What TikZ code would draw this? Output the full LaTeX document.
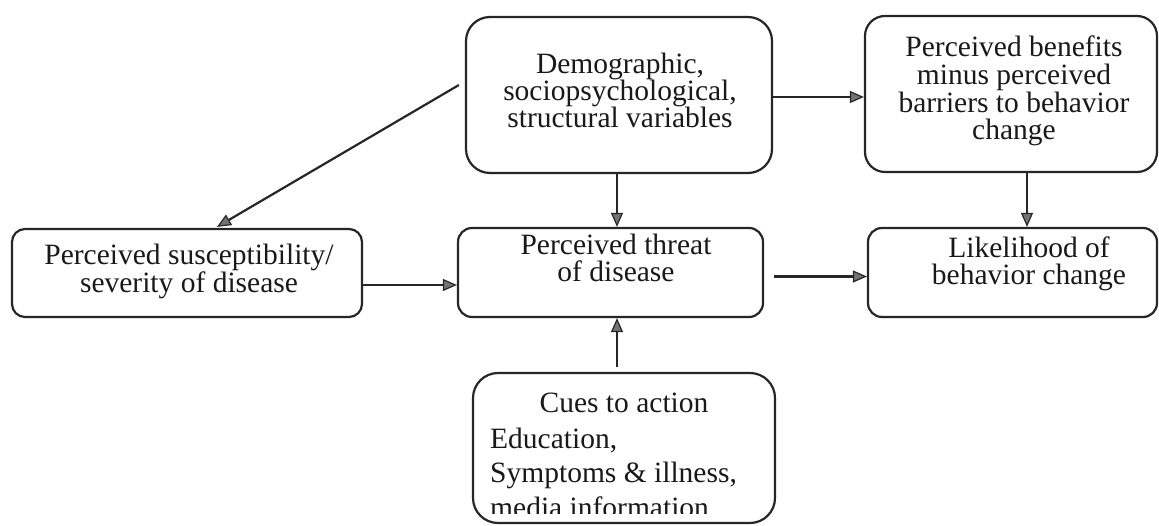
\documentclass[tikz,border=0pt]{standalone}
\usepackage{fontspec}
\setmainfont{Liberation Serif}
\usetikzlibrary{arrows.meta}
\tikzset{
  box/.style={draw=black!85, line width=2.2pt, rectangle, inner sep=0pt},
  txt/.style={font=\fontsize{29.5}{27}\selectfont, align=center, inner sep=0pt, anchor=base, text=black!90},
  arr/.style={draw=black!85, line width=2.2pt,
    -{Triangle[length=14pt,width=12pt,fill=black!55,line width=1.2pt]}}
}
\begin{document}
\begin{tikzpicture}[x=1pt,y=-1pt]
\useasboundingbox (0,0) rectangle (1159,526);

% boxes
\node[box, minimum width=306pt, minimum height=156pt, rounded corners=24pt] (demo) at (619,95) {};
\node[box, minimum width=292pt, minimum height=156pt, rounded corners=20pt] (ben) at (1011,94) {};
\node[box, minimum width=350pt, minimum height=88pt, rounded corners=13pt] (susc) at (187,273) {};
\node[box, minimum width=305pt, minimum height=89pt, rounded corners=14pt] (threat) at (610.5,272.5) {};
\node[box, minimum width=289pt, minimum height=89pt, rounded corners=14pt] (like) at (1012.5,272.5) {};
\node[box, minimum width=302pt, minimum height=150pt, rounded corners=25pt] (cues) at (624,448) {};

% texts (anchored at the baseline of the last line)
\node[txt] (demoT) at (620,128) {Demographic,\\sociopsychological,\\structural variables};
\node[txt, font=\fontsize{29.5}{27.7}\selectfont] (benT) at (1014,140) {Perceived benefits\\minus perceived\\barriers to behavior\\change};
\node[txt, font=\fontsize{29.5}{26}\selectfont] (suscT) at (189,293) {Perceived susceptibility/\\severity of disease};
\node[txt] (threatT) at (616,282) {Perceived threat\\of disease};
\node[txt] (likeT) at (1029,285) {Likelihood of\\behavior change};
\node[txt] (cuesT) at (624,413) {Cues to action};
\begin{scope}
  \clip (cues.north west) rectangle ([yshift=11pt]cues.south east);
  \node[txt, anchor=base west, align=left, font=\fontsize{29.5}{34.5}\selectfont] (cuesB) at (490,517)
    {Education,\\Symptoms \& illness,\\media information};
\end{scope}

% connectors
\draw[arr] ([yshift=-2pt]demo.east) -- ([yshift=-2pt]demo.east -| ben.west);
\draw[arr] ([xshift=16pt]ben.south) -- ([xshift=16pt]ben.south |- like.north);
\draw[arr] ([xshift=-2pt]demo.south) -- ([xshift=-2pt]demo.south |- threat.north);
\draw[arr] ([xshift=-6pt,yshift=10pt]demo.west) -- ([xshift=30pt,yshift=1pt]susc.north);
\draw[arr] ([yshift=-12pt]susc.east) -- ([yshift=-12pt]susc.east -| threat.west);
\draw[arr] ([xshift=10pt,yshift=-4pt]threat.east) -- ([yshift=-4pt]threat.east -| like.west);
\draw[arr] ([xshift=-7pt,yshift=5pt]cues.north) -- ([xshift=-7pt]cues.north |- threat.south);
\end{tikzpicture}
\end{document}
